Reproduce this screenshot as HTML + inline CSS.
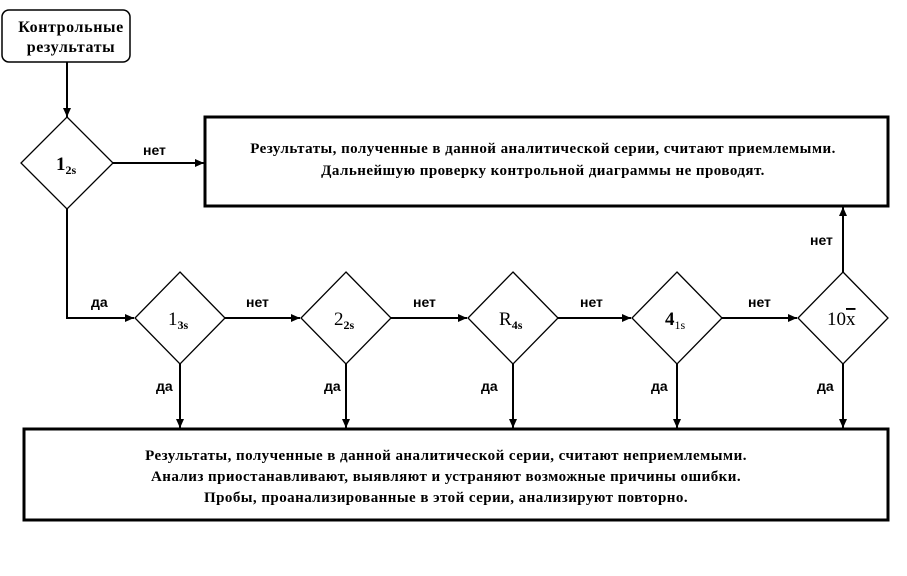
<!DOCTYPE html>
<html><head><meta charset="utf-8"><style>
body{margin:0;background:#fff;width:907px;height:571px;overflow:hidden}
svg text{font-family:"Liberation Serif",serif}
.l{font-family:"Liberation Sans",sans-serif;font-size:14px;font-weight:bold}
.t{font-size:15px;font-weight:bold;letter-spacing:0.45px}
</style></head><body>
<svg width="907" height="571" xmlns="http://www.w3.org/2000/svg">
<defs><marker id="a" markerWidth="10" markerHeight="10" refX="9" refY="5" orient="auto" markerUnits="userSpaceOnUse"><path d="M0,1 L9,5 L0,9 Z" fill="#000"/></marker></defs>
<g stroke="#000" fill="none">
<rect x="2" y="10" width="128" height="52" rx="7" stroke-width="1.5"/>
<rect x="205" y="117" width="683" height="89" stroke-width="3"/>
<rect x="24" y="429" width="864" height="91" stroke-width="3"/>
<path d="M67,117 L113,163 L67,209 L21,163 Z" stroke-width="1.3"/>
<g stroke-width="1.3">
<path d="M180,272 L225,318 L180,364 L135,318 Z"/>
<path d="M346,272 L391,318 L346,364 L301,318 Z"/>
<path d="M513,272 L558,318 L513,364 L468,318 Z"/>
<path d="M677,272 L722,318 L677,364 L632,318 Z"/>
<path d="M843,272 L888,318 L843,364 L798,318 Z"/>
</g>
<g stroke-width="2" marker-end="url(#a)">
<path d="M67,62 L67,117"/>
<path d="M113,163 L204,163"/>
<path d="M67,209 L67,318 L134,318"/>
<path d="M225,318 L300,318"/>
<path d="M391,318 L467,318"/>
<path d="M558,318 L631,318"/>
<path d="M722,318 L797,318"/>
<path d="M843,272 L843,207"/>
<path d="M180,364 L180,428"/>
<path d="M346,364 L346,428"/>
<path d="M513,364 L513,428"/>
<path d="M677,364 L677,428"/>
<path d="M843,364 L843,428"/>
</g></g>
<text x="71" y="32" font-size="16" font-weight="bold" letter-spacing="0.6" text-anchor="middle">Контрольные</text>
<text x="71" y="52" font-size="16" font-weight="bold" letter-spacing="0.6" text-anchor="middle">результаты</text>
<text x="56" y="170" font-size="19" font-weight="bold">1<tspan font-size="12" dy="4">2s</tspan></text>
<text x="168" y="325" font-size="19">1<tspan font-size="12" dy="4" font-weight="bold">3s</tspan></text>
<text x="334" y="325" font-size="19">2<tspan font-size="12" dy="4" font-weight="bold">2s</tspan></text>
<text x="499" y="325" font-size="19">R<tspan font-size="12" dy="4" font-weight="bold">4s</tspan></text>
<text x="665" y="325" font-size="19" font-weight="bold">4<tspan font-size="12" dy="4" font-weight="normal">1s</tspan></text>
<text x="827" y="325" font-size="19">10<tspan text-decoration="overline">x</tspan></text>
<text class="t" x="543" y="153" text-anchor="middle">Результаты, полученные в данной аналитической серии, считают приемлемыми.</text>
<text class="t" x="543" y="175" text-anchor="middle">Дальнейшую проверку контрольной диаграммы не проводят.</text>
<text class="t" x="446" y="460" text-anchor="middle">Результаты, полученные в данной аналитической серии, считают неприемлемыми.</text>
<text class="t" x="446" y="481" text-anchor="middle">Анализ приостанавливают, выявляют и устраняют возможные причины ошибки.</text>
<text class="t" x="446" y="502" text-anchor="middle">Пробы, проанализированные в этой серии, анализируют повторно.</text>
<text class="l" x="143" y="155">нет</text>
<text class="l" x="91" y="307">да</text>
<text class="l" x="246" y="307">нет</text>
<text class="l" x="413" y="307">нет</text>
<text class="l" x="580" y="307">нет</text>
<text class="l" x="748" y="307">нет</text>
<text class="l" x="810" y="245">нет</text>
<text class="l" x="156" y="391">да</text>
<text class="l" x="324" y="391">да</text>
<text class="l" x="481" y="391">да</text>
<text class="l" x="651" y="391">да</text>
<text class="l" x="817" y="391">да</text>
</svg>
</body></html>
